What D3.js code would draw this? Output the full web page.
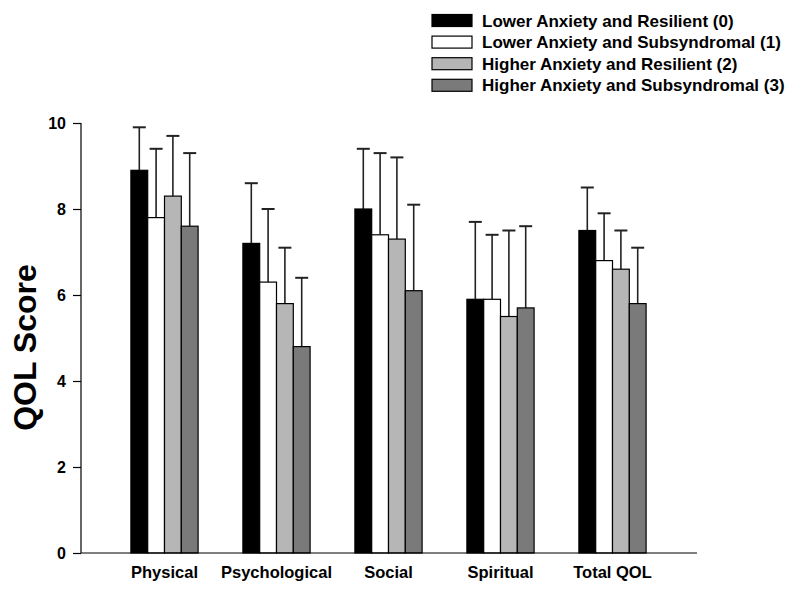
<!DOCTYPE html>
<html>
<head>
<meta charset="utf-8">
<script src="https://cdn.jsdelivr.net/npm/d3@7"></script>
<style>
  html, body { margin: 0; padding: 0; background: #fff; }
  svg { display: block; font-family: "Liberation Sans", Arial, sans-serif; }
</style>
</head>
<body>
<svg id="chart" width="800" height="596"></svg>
<script>
// ---- data ----
const categories = ["Physical", "Psychological", "Social", "Spiritual", "Total QOL"];
const seriesNames = [
  "Lower Anxiety and Resilient (0)",
  "Lower Anxiety and Subsyndromal (1)",
  "Higher Anxiety and Resilient (2)",
  "Higher Anxiety and Subsyndromal (3)"
];
const means0 = [8.9, 7.2, 8.0, 5.9, 7.5];
const means1 = [7.8, 6.3, 7.4, 5.9, 6.8];
const means2 = [8.3, 5.8, 7.3, 5.5, 6.6];
const means3 = [7.6, 4.8, 6.1, 5.7, 5.8];
const sd0 = [1.0, 1.4, 1.4, 1.8, 1.0];
const sd1 = [1.6, 1.7, 1.9, 1.5, 1.1];
const sd2 = [1.4, 1.3, 1.9, 2.0, 0.9];
const sd3 = [1.7, 1.6, 2.0, 1.9, 1.3];
const yTicks = [0, 2, 4, 6, 8, 10];
const yLabel = "QOL Score";

const seriesColors = ["#000000", "#ffffff", "#b6b6b6", "#7a7a7a"];
const meansAll = [means0, means1, means2, means3];
const sdAll = [sd0, sd1, sd2, sd3];

// ---- layout ----
const svg = d3.select("#chart");
const axisLeftX = 81, axisRightX = 697;
const yTop = 123, yBottom = 553;

const x = d3.scaleBand().domain(categories).range([108.5, 668.5]).paddingInner(0.4).paddingOuter(0.2);
const xs = d3.scaleBand().domain(d3.range(seriesNames.length)).range([0, x.bandwidth()]);
const y = d3.scaleLinear().domain([0, 10]).range([yBottom, yTop]);

const rows = [];
categories.forEach((c, i) => {
  meansAll.forEach((m, s) => rows.push({ cat: c, s, mean: m[i], sd: sdAll[s][i] }));
});

// error bars (drawn first so bars overlap base)
const eb = svg.append("g").attr("stroke", "#222").attr("stroke-width", 1.6);
rows.forEach(d => {
  const cx = x(d.cat) + xs(d.s) + xs.bandwidth() / 2;
  eb.append("line").attr("x1", cx).attr("x2", cx).attr("y1", y(d.mean)).attr("y2", y(d.mean + d.sd));
  eb.append("line").attr("x1", cx - 6.5).attr("x2", cx + 6.5).attr("y1", y(d.mean + d.sd)).attr("y2", y(d.mean + d.sd)).attr("stroke-width", 2);
});

// bars
svg.append("g").selectAll("rect").data(rows).join("rect")
  .attr("x", d => x(d.cat) + xs(d.s))
  .attr("y", d => y(d.mean))
  .attr("width", xs.bandwidth())
  .attr("height", d => y(0) - y(d.mean))
  .attr("fill", d => seriesColors[d.s])
  .attr("stroke", "#000")
  .attr("stroke-width", 1.2);

// y axis
const yAxis = d3.axisLeft(y).tickValues(yTicks).tickSize(8).tickPadding(7).tickFormat(d3.format("d"));
const gy = svg.append("g").attr("transform", `translate(${axisLeftX},0)`).call(yAxis);
gy.select(".domain").attr("d", `M0,${yTop}V${yBottom}`).attr("stroke", "#000").attr("stroke-width", 1.2);
gy.selectAll(".tick line").attr("stroke", "#000").attr("stroke-width", 1.2);
gy.selectAll(".tick text").attr("font-size", 16).attr("font-weight", "bold").attr("fill", "#000")
  .attr("font-family", "'Liberation Sans', Arial, sans-serif");

// x axis line
svg.append("line").attr("x1", axisLeftX).attr("x2", axisRightX).attr("y1", yBottom).attr("y2", yBottom)
  .attr("stroke", "#000").attr("stroke-width", 1.2);

// category labels
const xAxis = d3.axisBottom(x).tickSize(0).tickPadding(0);
const gx = svg.append("g").attr("transform", `translate(0,${yBottom})`).call(xAxis);
gx.select(".domain").remove();
gx.selectAll(".tick text").attr("font-size", 16.5).attr("font-weight", "bold").attr("fill", "#000")
  .attr("dy", null).attr("y", 24.5)
  .attr("font-family", "'Liberation Sans', Arial, sans-serif");

// y label
svg.append("text")
  .attr("transform", `translate(36,${(262 + 433) / 2}) rotate(-90)`)
  .attr("text-anchor", "middle")
  .attr("font-size", 32).attr("font-weight", "bold").attr("fill", "#000")
  .text(yLabel);

// legend
const lg = svg.append("g");
seriesNames.forEach((name, i) => {
  const cy = 20.5 + i * 21.6;
  lg.append("rect").attr("x", 432).attr("y", cy - 6).attr("width", 40).attr("height", 12)
    .attr("fill", seriesColors[i]).attr("stroke", "#000").attr("stroke-width", 1.2);
  lg.append("text").attr("x", 482).attr("y", cy + 6).attr("font-size", 17).attr("font-weight", "bold")
    .attr("fill", "#000").text(name);
});
</script>
</body>
</html>
